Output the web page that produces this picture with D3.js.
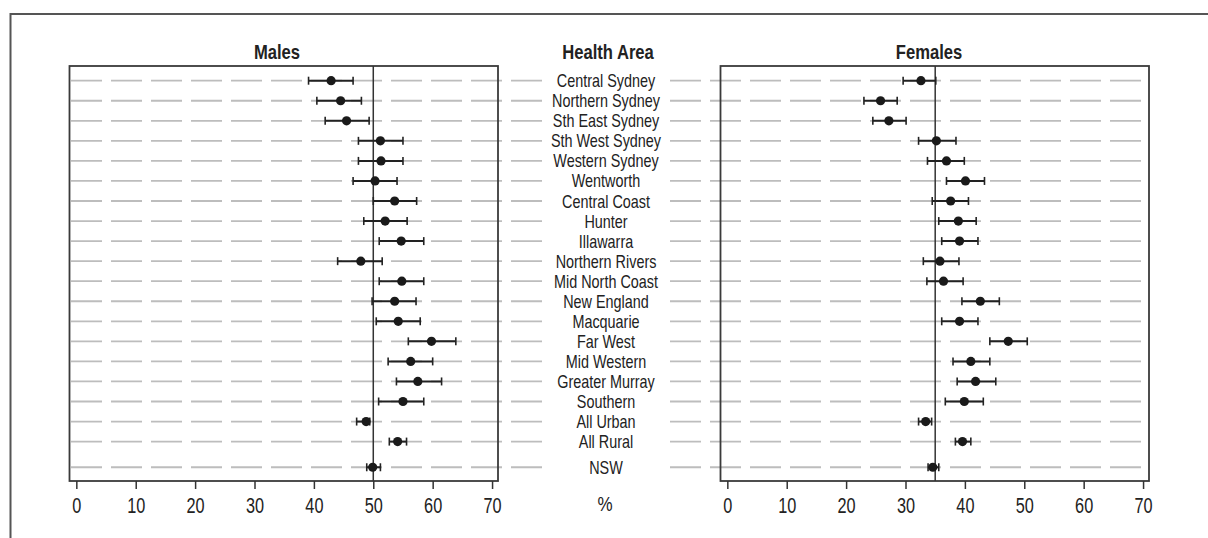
<!DOCTYPE html>
<html>
<head>
<meta charset="utf-8">
<script src="https://cdn.jsdelivr.net/npm/d3@7/dist/d3.min.js"></script>
<style>
  html, body { margin: 0; padding: 0; background: #fff; }
  svg { display: block; }
  text { font-family: "Liberation Sans Narrow", "Liberation Sans", Arial, sans-serif; fill: #222; }
</style>
</head>
<body>
<svg id="chart" width="1208" height="538"></svg>
<script>
// ---------------- DATA ----------------
const categories = ["Central Sydney","Northern Sydney","Sth East Sydney","Sth West Sydney","Western Sydney",
  "Wentworth","Central Coast","Hunter","Illawarra","Northern Rivers","Mid North Coast","New England",
  "Macquarie","Far West","Mid Western","Greater Murray","Southern","All Urban","All Rural","NSW"];

const malesEst = [42.9,44.5,45.5,51.2,51.3,50.3,53.6,52.0,54.7,47.9,54.8,53.6,54.2,59.8,56.3,57.5,55.0,48.8,54.1,49.9];
const malesLow = [39.1,40.5,41.9,47.5,47.5,46.6,50.0,48.4,51.0,44.0,51.0,49.8,50.5,55.9,52.5,53.9,50.9,47.2,52.7,48.9];
const malesHigh = [46.6,48.0,49.3,55.0,55.0,54.0,57.3,55.7,58.5,51.5,58.5,57.2,57.9,63.9,60.0,61.5,58.5,49.4,55.6,51.2];

const femalesEst = [32.6,25.8,27.2,35.2,36.9,40.1,37.6,38.9,39.1,35.8,36.4,42.6,39.1,47.3,41.0,41.8,39.9,33.4,39.6,34.6];
const femalesLow = [29.6,23.0,24.5,32.2,33.7,36.9,34.5,35.6,36.1,33.0,33.6,39.5,36.1,44.2,38.0,38.7,36.7,32.2,38.4,33.8];
const femalesHigh = [35.1,28.6,30.1,38.5,39.9,43.3,40.6,41.9,42.2,39.0,39.7,45.8,42.2,50.5,44.2,45.2,43.1,34.4,41.0,35.6];

const malesRef = 50;
const femalesRef = 35;
const tickValues = [0,10,20,30,40,50,60,70];
const panelTitles = ["Males","Females"];
const centerTitle = "Health Area";
const unitLabel = "%";

// ---------------- LAYOUT ----------------
const svg = d3.select("#chart");
const boxTop = 66, boxBottom = 481;
const xDomain = [-1.15, 71];

// condensed text helper (horizontal squeeze to imitate a narrow face)
function addText(txt, x, yy, size, sx, bold) {
  return svg.append("text")
    .attr("transform", `translate(${x},${yy}) scale(${sx},1)`)
    .attr("text-anchor", "middle")
    .style("font-size", size + "px")
    .style("font-weight", bold ? "bold" : "normal")
    .text(txt);
}

// row positions: NSW (total) is set slightly apart from the others
const rowPos = categories.map((c, i) => i + (i === categories.length - 1 ? 0.28 : 0));
const y = d3.scaleLinear().domain([0, 18]).range([80.7, 441.6]);

// outer frame (top and left edges visible)
svg.append("line").attr("x1", 10).attr("x2", 1208).attr("y1", 14).attr("y2", 14)
  .attr("stroke", "#555").attr("stroke-width", 2);
svg.append("line").attr("x1", 10.5).attr("x2", 10.5).attr("y1", 13).attr("y2", 538)
  .attr("stroke", "#555").attr("stroke-width", 2);

const panels = [
  { title: panelTitles[0], titleX: 277, range: [69.5, 498], grid: [71, 542], est: malesEst, lo: malesLow, hi: malesHigh, ref: malesRef },
  { title: panelTitles[1], titleX: 929, range: [720.5, 1149], grid: [670, 1142], est: femalesEst, lo: femalesLow, hi: femalesHigh, ref: femalesRef }
];

panels.forEach(p => {
  const x = d3.scaleLinear().domain(xDomain).range(p.range);
  const g = svg.append("g");

  // dashed gridlines
  g.selectAll("line.grid").data(categories).join("line")
    .attr("class", "grid")
    .attr("x1", p.grid[0]).attr("x2", p.grid[1])
    .attr("y1", (d, i) => y(rowPos[i])).attr("y2", (d, i) => y(rowPos[i]))
    .attr("stroke", "#bdbdbd").attr("stroke-width", 1.8)
    .attr("stroke-dasharray", "31,9");

  // plot box
  g.append("rect")
    .attr("x", p.range[0]).attr("y", boxTop)
    .attr("width", p.range[1] - p.range[0]).attr("height", boxBottom - boxTop)
    .attr("fill", "none").attr("stroke", "#3a3a3a").attr("stroke-width", 1.8);

  // reference line
  g.append("line")
    .attr("x1", x(p.ref)).attr("x2", x(p.ref))
    .attr("y1", boxTop).attr("y2", boxBottom)
    .attr("stroke", "#333").attr("stroke-width", 1.5);

  // axis
  const axis = d3.axisBottom(x).tickValues(tickValues).tickSize(8).tickPadding(8).tickFormat(d3.format("d"));
  const ag = g.append("g").attr("transform", `translate(0,${boxBottom})`).call(axis);
  ag.select(".domain").remove();
  ag.selectAll(".tick line").attr("stroke", "#333").attr("stroke-width", 1.5);
  ag.selectAll(".tick text")
    .style("font-family", '"Liberation Sans Narrow", "Liberation Sans", Arial, sans-serif')
    .style("font-size", "22px").attr("fill", "#2a2a2a")
    .attr("transform", "scale(0.74,1)");

  // error bars
  const eb = g.selectAll("g.eb").data(categories).join("g").attr("class", "eb")
    .attr("transform", (d, i) => `translate(0,${y(rowPos[i])})`);
  eb.append("line")
    .attr("x1", (d, i) => x(p.lo[i])).attr("x2", (d, i) => x(p.hi[i]))
    .attr("y1", 0).attr("y2", 0)
    .attr("stroke", "#222").attr("stroke-width", 2);
  eb.append("line")
    .attr("x1", (d, i) => x(p.lo[i])).attr("x2", (d, i) => x(p.lo[i]))
    .attr("y1", -4).attr("y2", 4)
    .attr("stroke", "#222").attr("stroke-width", 1.6);
  eb.append("line")
    .attr("x1", (d, i) => x(p.hi[i])).attr("x2", (d, i) => x(p.hi[i]))
    .attr("y1", -4).attr("y2", 4)
    .attr("stroke", "#222").attr("stroke-width", 1.6);
  eb.append("circle")
    .attr("cx", (d, i) => x(p.est[i])).attr("cy", 0).attr("r", 4.6)
    .attr("fill", "#1a1a1a");

  // panel title
  addText(p.title, p.titleX, 59, 20, 0.83, true);
});

// centre column: title, category labels, unit
addText(centerTitle, 608, 59, 20, 0.83, true);

svg.selectAll("text.cat").data(categories).join("text")
  .attr("class", "cat")
  .attr("transform", (d, i) => `translate(606,${y(rowPos[i]) + 6.5}) scale(0.8,1)`)
  .attr("text-anchor", "middle")
  .attr("fill", "#2a2a2a")
  .style("font-size", "18px")
  .text(d => d);

addText(unitLabel, 605, 511, 20, 0.85, false);
</script>
</body>
</html>
